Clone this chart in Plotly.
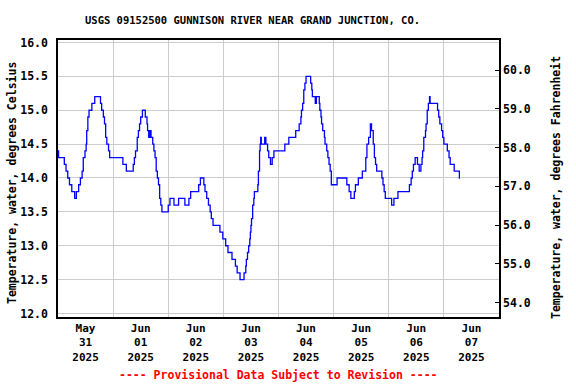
import plotly.graph_objects as go

# Water temperature readings (deg C), step changes
times = [
    "2025-05-31 00:00", "2025-05-31 00:15", "2025-05-31 02:45", "2025-05-31 03:30", "2025-05-31 04:15",
    "2025-05-31 05:00", "2025-05-31 06:00", "2025-05-31 07:15", "2025-05-31 08:00", "2025-05-31 09:00",
    "2025-05-31 09:45", "2025-05-31 10:30", "2025-05-31 11:00", "2025-05-31 11:45", "2025-05-31 12:15",
    "2025-05-31 12:30", "2025-05-31 13:00", "2025-05-31 13:30", "2025-05-31 14:45", "2025-05-31 16:00",
    "2025-05-31 18:30", "2025-05-31 19:00", "2025-05-31 19:45", "2025-05-31 20:15", "2025-05-31 20:45",
    "2025-05-31 21:15", "2025-05-31 22:00", "2025-05-31 22:30",
    "2025-06-01 04:15", "2025-06-01 05:45", "2025-06-01 08:45", "2025-06-01 09:15", "2025-06-01 09:45",
    "2025-06-01 10:30", "2025-06-01 11:00", "2025-06-01 11:30", "2025-06-01 12:00", "2025-06-01 12:45",
    "2025-06-01 14:00", "2025-06-01 14:45", "2025-06-01 15:00", "2025-06-01 15:30", "2025-06-01 16:00",
    "2025-06-01 16:30", "2025-06-01 17:15", "2025-06-01 17:45", "2025-06-01 18:15", "2025-06-01 18:45",
    "2025-06-01 19:15", "2025-06-01 19:45", "2025-06-01 20:15", "2025-06-01 20:45", "2025-06-01 21:15",
    "2025-06-02 00:00", "2025-06-02 00:45", "2025-06-02 02:30", "2025-06-02 04:30", "2025-06-02 07:15",
    "2025-06-02 09:00", "2025-06-02 09:45", "2025-06-02 13:15", "2025-06-02 14:00", "2025-06-02 15:30",
    "2025-06-02 16:00", "2025-06-02 16:45", "2025-06-02 17:30", "2025-06-02 18:15", "2025-06-02 18:45",
    "2025-06-02 19:30", "2025-06-02 22:30", "2025-06-02 23:45",
    "2025-06-03 01:00", "2025-06-03 02:00", "2025-06-03 03:45", "2025-06-03 05:15", "2025-06-03 06:00",
    "2025-06-03 07:15", "2025-06-03 09:00", "2025-06-03 09:45", "2025-06-03 10:00", "2025-06-03 10:30",
    "2025-06-03 11:00", "2025-06-03 11:30", "2025-06-03 11:45", "2025-06-03 12:00", "2025-06-03 12:15",
    "2025-06-03 12:45", "2025-06-03 13:15", "2025-06-03 13:30", "2025-06-03 15:00", "2025-06-03 15:15",
    "2025-06-03 15:45", "2025-06-03 16:00", "2025-06-03 16:15", "2025-06-03 16:30", "2025-06-03 18:00",
    "2025-06-03 18:30", "2025-06-03 19:15", "2025-06-03 19:45", "2025-06-03 20:30", "2025-06-03 21:15",
    "2025-06-03 22:00",
    "2025-06-04 02:45", "2025-06-04 04:30", "2025-06-04 07:30", "2025-06-04 09:00", "2025-06-04 09:45",
    "2025-06-04 10:00", "2025-06-04 10:30", "2025-06-04 11:00", "2025-06-04 11:30", "2025-06-04 12:00",
    "2025-06-04 14:00", "2025-06-04 14:30", "2025-06-04 14:45", "2025-06-04 16:00", "2025-06-04 16:30",
    "2025-06-04 17:45", "2025-06-04 18:00", "2025-06-04 18:30", "2025-06-04 18:45", "2025-06-04 19:15",
    "2025-06-04 20:00", "2025-06-04 20:15", "2025-06-04 21:00", "2025-06-04 21:30", "2025-06-04 22:00",
    "2025-06-04 22:30", "2025-06-04 23:00",
    "2025-06-05 01:30", "2025-06-05 05:45", "2025-06-05 06:45", "2025-06-05 07:30", "2025-06-05 09:00",
    "2025-06-05 09:30", "2025-06-05 10:45", "2025-06-05 12:30", "2025-06-05 14:00", "2025-06-05 14:30",
    "2025-06-05 15:15", "2025-06-05 16:00", "2025-06-05 16:30", "2025-06-05 17:15", "2025-06-05 17:45",
    "2025-06-05 18:15", "2025-06-05 18:45", "2025-06-05 21:00", "2025-06-05 21:30", "2025-06-05 22:00",
    "2025-06-05 22:30",
    "2025-06-06 01:15", "2025-06-06 02:15", "2025-06-06 04:00", "2025-06-06 09:00", "2025-06-06 09:45",
    "2025-06-06 10:15", "2025-06-06 10:45", "2025-06-06 11:30", "2025-06-06 12:30", "2025-06-06 13:15",
    "2025-06-06 14:00", "2025-06-06 14:30", "2025-06-06 14:45", "2025-06-06 15:15", "2025-06-06 16:00",
    "2025-06-06 16:15", "2025-06-06 16:45", "2025-06-06 17:15", "2025-06-06 17:45", "2025-06-06 18:00",
    "2025-06-06 21:15", "2025-06-06 21:45", "2025-06-06 22:15", "2025-06-06 23:00", "2025-06-06 23:30",
    "2025-06-07 00:00", "2025-06-07 01:30", "2025-06-07 02:15", "2025-06-07 02:45", "2025-06-07 04:30",
    "2025-06-07 06:45", "2025-06-07 07:00",
]
temps_c = [
    14.4, 14.3, 14.2, 14.1, 14.0,
    13.9, 13.8, 13.7, 13.8, 13.9,
    14.0, 14.1, 14.3, 14.4, 14.5,
    14.7, 14.9, 15.0, 15.1, 15.2,
    15.1, 15.0, 14.9, 14.8, 14.6,
    14.5, 14.4, 14.3,
    14.2, 14.1, 14.2, 14.3, 14.4,
    14.6, 14.7, 14.8, 14.9, 15.0,
    14.9, 14.8, 14.7, 14.6, 14.7,
    14.6, 14.5, 14.4, 14.3, 14.1,
    14.0, 13.9, 13.7, 13.6, 13.5,
    13.6, 13.7, 13.6, 13.7, 13.6,
    13.7, 13.8, 13.9, 14.0, 13.9,
    13.8, 13.7, 13.6, 13.5, 13.4,
    13.3, 13.2, 13.1,
    13.0, 12.9, 12.8, 12.7, 12.6,
    12.5, 12.6, 12.7, 12.8, 12.9,
    13.0, 13.1, 13.2, 13.3, 13.4,
    13.6, 13.7, 13.8, 13.9, 14.1,
    14.4, 14.5, 14.6, 14.5, 14.6,
    14.5, 14.4, 14.3, 14.2, 14.3,
    14.4,
    14.5, 14.6, 14.7, 14.8, 14.9,
    15.0, 15.1, 15.3, 15.4, 15.5,
    15.4, 15.3, 15.2, 15.1, 15.2,
    15.1, 15.0, 14.9, 14.8, 14.7,
    14.6, 14.5, 14.4, 14.3, 14.2,
    14.1, 13.9,
    14.0, 13.9, 13.8, 13.7, 13.8,
    13.9, 14.0, 14.1, 14.3, 14.5,
    14.6, 14.8, 14.7, 14.5, 14.3,
    14.2, 14.1, 14.0, 13.9, 13.8,
    13.7,
    13.6, 13.7, 13.8, 13.9, 14.0,
    14.1, 14.2, 14.3, 14.2, 14.1,
    14.2, 14.3, 14.4, 14.6, 14.7,
    14.8, 15.0, 15.1, 15.2, 15.1,
    15.0, 14.9, 14.8, 14.7, 14.6,
    14.5, 14.4, 14.3, 14.2, 14.1,
    14.0, 14.0,
]

day_ticks = ["2025-05-31 12:00", "2025-06-01 12:00", "2025-06-02 12:00", "2025-06-03 12:00",
             "2025-06-04 12:00", "2025-06-05 12:00", "2025-06-06 12:00", "2025-06-07 12:00"]
day_labels = ["May<br>31<br>2025", "Jun<br>01<br>2025", "Jun<br>02<br>2025", "Jun<br>03<br>2025",
              "Jun<br>04<br>2025", "Jun<br>05<br>2025", "Jun<br>06<br>2025", "Jun<br>07<br>2025"]
c_ticks = [12.0, 12.5, 13.0, 13.5, 14.0, 14.5, 15.0, 15.5, 16.0]
f_ticks = [54.0, 55.0, 56.0, 57.0, 58.0, 59.0, 60.0]

title = "USGS 09152500 GUNNISON RIVER NEAR GRAND JUNCTION, CO."
left_title = "Temperature, water, degrees Celsius"
right_title = "Temperature, water, degrees Fahrenheit"
footer = "---- Provisional Data Subject to Revision ----"

FONT = "DejaVu Sans Mono"
tick_font = dict(family=FONT, size=11.5, color="black", weight="bold")
xtick_font = dict(family=FONT, size=11, color="black", weight="bold")

fig = go.Figure()
fig.add_trace(go.Scatter(x=times, y=temps_c, mode="lines", line=dict(color="#0000ff", width=1.3, shape="hv"),
                         showlegend=False, hoverinfo="skip"))
# invisible trace to activate the Fahrenheit axis
fig.add_trace(go.Scatter(x=[times[0]], y=[temps_c[0] * 1.8 + 32], yaxis="y2", mode="markers",
                         marker=dict(opacity=0), showlegend=False, hoverinfo="skip"))

c_lo, c_hi = 11.948, 16.037
fig.update_layout(
    width=576, height=384,
    margin=dict(l=58, r=77, t=40, b=67, autoexpand=False),
    paper_bgcolor="white", plot_bgcolor="white",
    xaxis=dict(
        type="date", range=["2025-05-31 00:00", "2025-06-08 00:00"],
        tickmode="array", tickvals=day_ticks, ticktext=day_labels,
        showgrid=False, ticks="", tickfont=xtick_font, automargin=False,
        showline=True, linecolor="black", linewidth=1.5, mirror=True,
        minor=dict(tick0="2025-05-31", dtick=86400000, showgrid=True, gridcolor="#cccccc", gridwidth=1, ticks=""),
        zeroline=False,
    ),
    yaxis=dict(
        range=[c_lo, c_hi], tickmode="array", tickvals=c_ticks,
        ticktext=[f"{v:.1f}" for v in c_ticks], tickfont=tick_font, ticklabelstandoff=6,
        showgrid=True, gridcolor="#cccccc", gridwidth=1, ticks="", automargin=False,
        showline=True, linecolor="black", linewidth=1.5, zeroline=False,
    ),
    yaxis2=dict(
        overlaying="y", side="right", range=[53.631, 60.774],
        tickmode="array", tickvals=f_ticks, ticktext=[f"{v:.1f}" for v in f_ticks],
        tickfont=tick_font, showgrid=False, ticks="inside", ticklen=4, tickcolor="black",
        showline=True, linecolor="black", linewidth=1.5, zeroline=False, automargin=False,
    ),
    annotations=[
        dict(text=title, x=252, y=384 - 20, showarrow=False,
             font=dict(family=FONT, size=10.5, color="black", weight="bold")),
        dict(text=left_title, textangle=-90, x=12, y=384 - 183, showarrow=False,
             font=dict(family=FONT, size=11.5, color="black", weight="bold")),
        dict(text=right_title, textangle=-90, x=556, y=384 - 188, showarrow=False,
             font=dict(family=FONT, size=11.5, color="black", weight="bold")),
        dict(text=footer, x=278, y=384 - 375, showarrow=False,
             font=dict(family=FONT, size=11.5, color="red", weight="bold")),
    ],
)

# annotations above are given in pixel positions; convert to paper coordinates
pw, ph = 576 - 58 - 77, 384 - 40 - 67
for a in fig.layout.annotations:
    a.xref = "paper"; a.yref = "paper"
    a.x = (a.x - 58) / pw
    a.y = (a.y - 67) / ph
    a.xanchor = "center"; a.yanchor = "middle"

fig.write_html("out.html", config={"displayModeBar": False},
               post_script="document.body.style.margin='0';document.body.style.overflow='hidden';")
